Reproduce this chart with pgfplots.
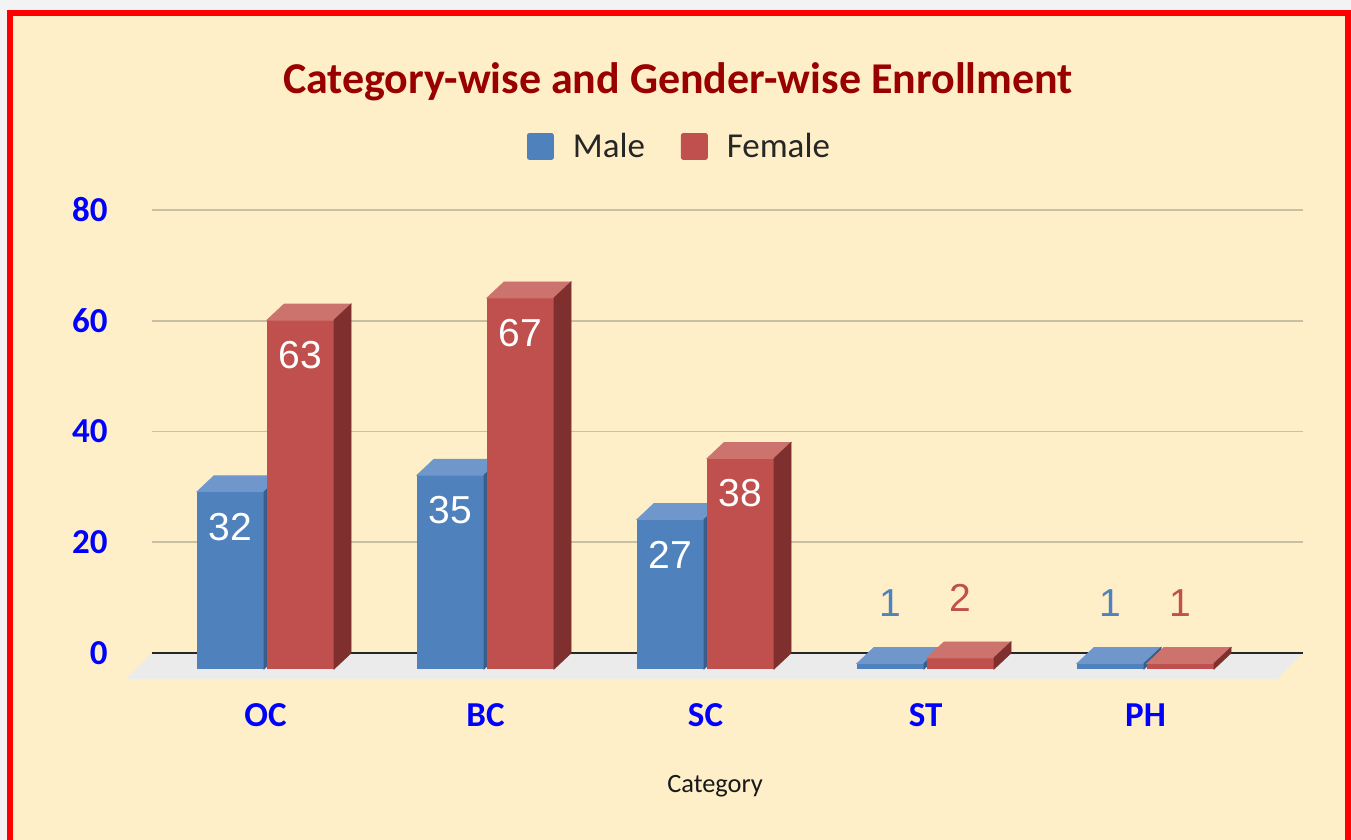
\documentclass[border=0pt]{standalone}
\usepackage{pgfplots}
\pgfplotsset{compat=1.18}
\usepackage{pgfplotstable}
\usepackage{fontspec}
\setmainfont{Carlito}
\newfontfamily\lblfont{Liberation Sans}
\definecolor{bgyellow}{HTML}{FFEFC8}
\definecolor{borderred}{HTML}{FF0000}
\definecolor{topgray}{HTML}{F3F3F3}
\definecolor{titlered}{HTML}{990000}
\definecolor{tickblue}{HTML}{0000FF}
\definecolor{gridtan}{HTML}{C9BFA3}
\definecolor{floorgray}{HTML}{EBEBEB}
\definecolor{maleblue}{HTML}{4F81BD}
\definecolor{maletop}{HTML}{6F97CB}
\definecolor{maleside}{HTML}{3A5E8C}
\definecolor{femred}{HTML}{C0504D}
\definecolor{femtop}{HTML}{CC736E}
\definecolor{femside}{HTML}{7F302E}
\pgfdeclareplotmark{empty3d}{}

\pgfplotstableread{
x m f
0 32 63
1 35 67
2 27 38
3 1 2
4 1 1
}\enrol

% 3D faces and value label of one bar, drawn relative to the data point (back top of the bar)
\newcommand\threedcode[4]{%
  \pgfmathsetmacro\hh{\val*2.76875}%
  \fill[#2] ({#1-16.75pt},-8pt) -- ({#1-8.25pt},0pt) -- ({#1+25.25pt},0pt) -- ({#1+16.75pt},-8pt) -- cycle;
  \fill[#3] ({#1+16.75pt},-8pt) -- ({#1+25.25pt},0pt) -- ({#1+25.25pt},{-\hh pt}) -- ({#1+16.75pt},{-\hh pt-8pt}) -- cycle;
  \ifdim\val pt>5pt
    \node[text=white, font=\lblfont\fontsize{19.5}{22}\selectfont, inner sep=0pt] at ({#1},-25.5pt) {\pgfmathprintnumber{\val}};
  \else
    \node[text=#4, font=\lblfont\fontsize{19.5}{22}\selectfont, inner sep=0pt] at ({#1},22pt) {\pgfmathprintnumber{\val}};
  \fi
}

\begin{document}
\begin{tikzpicture}
\path[use as bounding box] (0,0) rectangle (675.5pt,420pt);
\fill[topgray] (0,0) rectangle (675.5pt,420pt);
\fill[borderred] (3.5pt,0) rectangle (675.5pt,415pt);
\fill[bgyellow] (6.5pt,0) rectangle (672.5pt,412pt);
\begin{axis}[
  at={(76pt,79.66pt)}, anchor=south west,
  x=110pt, y=2.76875pt,
  xmin=-0.516, xmax=4.716, ymin=-5, ymax=80,
  clip=false,
  clip mode=individual,
  axis line style={draw=none},
  tick style={draw=none},
  major tick length=0pt,
  ytick={0,20,40,60,80},
  xtick={0,1,2,3,4},
  xticklabels={OC,BC,SC,ST,PH},
  ymajorgrids,
  grid style={color=gridtan, line width=0.8pt},
  /pgf/number format/assume math mode=true,
  ticklabel style={font=\bfseries\fontsize{17.5}{20}\selectfont, text=tickblue, inner sep=0pt},
  yticklabel style={anchor=east, xshift=-22pt},
  xticklabel style={anchor=center, yshift=-17pt},
  title={Category-wise and Gender-wise Enrollment},
  title style={at={(axis description cs:0.457,1.221)}, anchor=base, font=\bfseries\fontsize{22}{26}\selectfont, text=titlered},
  xlabel={Category},
  xlabel style={at={(axis description cs:0.4892,-0.2386)}, anchor=base, font=\fontsize{13.2}{15}\selectfont, text=black!90},
  legend columns=2,
  legend style={at={(axis description cs:0.4574,1.135)}, anchor=center, draw=none, fill=none,
    font=\fontsize{17.5}{20}\selectfont, text=black!85,
    nodes={inner sep=0pt},
    /tikz/every odd column/.append style={column sep=9.5pt},
    /tikz/every even column/.append style={column sep=18pt}},
]
% floor and zero line
\addplot[fill=floorgray, draw=none, forget plot] coordinates {(-0.516,0) (4.716,0) (4.598,-4.7) (-0.634,-4.7)} -- cycle;
\addplot[draw=black!85, line width=1pt, forget plot] coordinates {(-0.516,0) (4.716,0)};
% Male
\addplot[ybar, bar width=33.5pt, bar shift=-17.5pt, fill=maleblue, draw=none, yshift=-8pt, forget plot] table[x=x,y=m] {\enrol};
\addplot[scatter, only marks, mark=empty3d, forget plot,
  visualization depends on={\thisrow{m} \as \val},
  scatter/@pre marker code/.append code={\threedcode{-17.5pt}{maletop}{maleside}{maleblue}}] table[x=x,y=m] {\enrol};
% Female
\addplot[ybar, bar width=33.5pt, bar shift=17.5pt, fill=femred, draw=none, yshift=-8pt, forget plot] table[x=x,y=f] {\enrol};
\addplot[scatter, only marks, mark=empty3d, forget plot,
  visualization depends on={\thisrow{f} \as \val},
  scatter/@pre marker code/.append code={\threedcode{17.5pt}{femtop}{femside}{femred}}] table[x=x,y=f] {\enrol};
% legend
\addlegendimage{legend image code/.code={\fill[maleblue, rounded corners=1pt] (0pt,-6.5pt) rectangle (13pt,6.5pt);}}
\addlegendentry{Male}
\addlegendimage{legend image code/.code={\fill[femred, rounded corners=1pt] (0pt,-6.5pt) rectangle (13pt,6.5pt);}}
\addlegendentry{Female}
\end{axis}
\end{tikzpicture}
\end{document}
